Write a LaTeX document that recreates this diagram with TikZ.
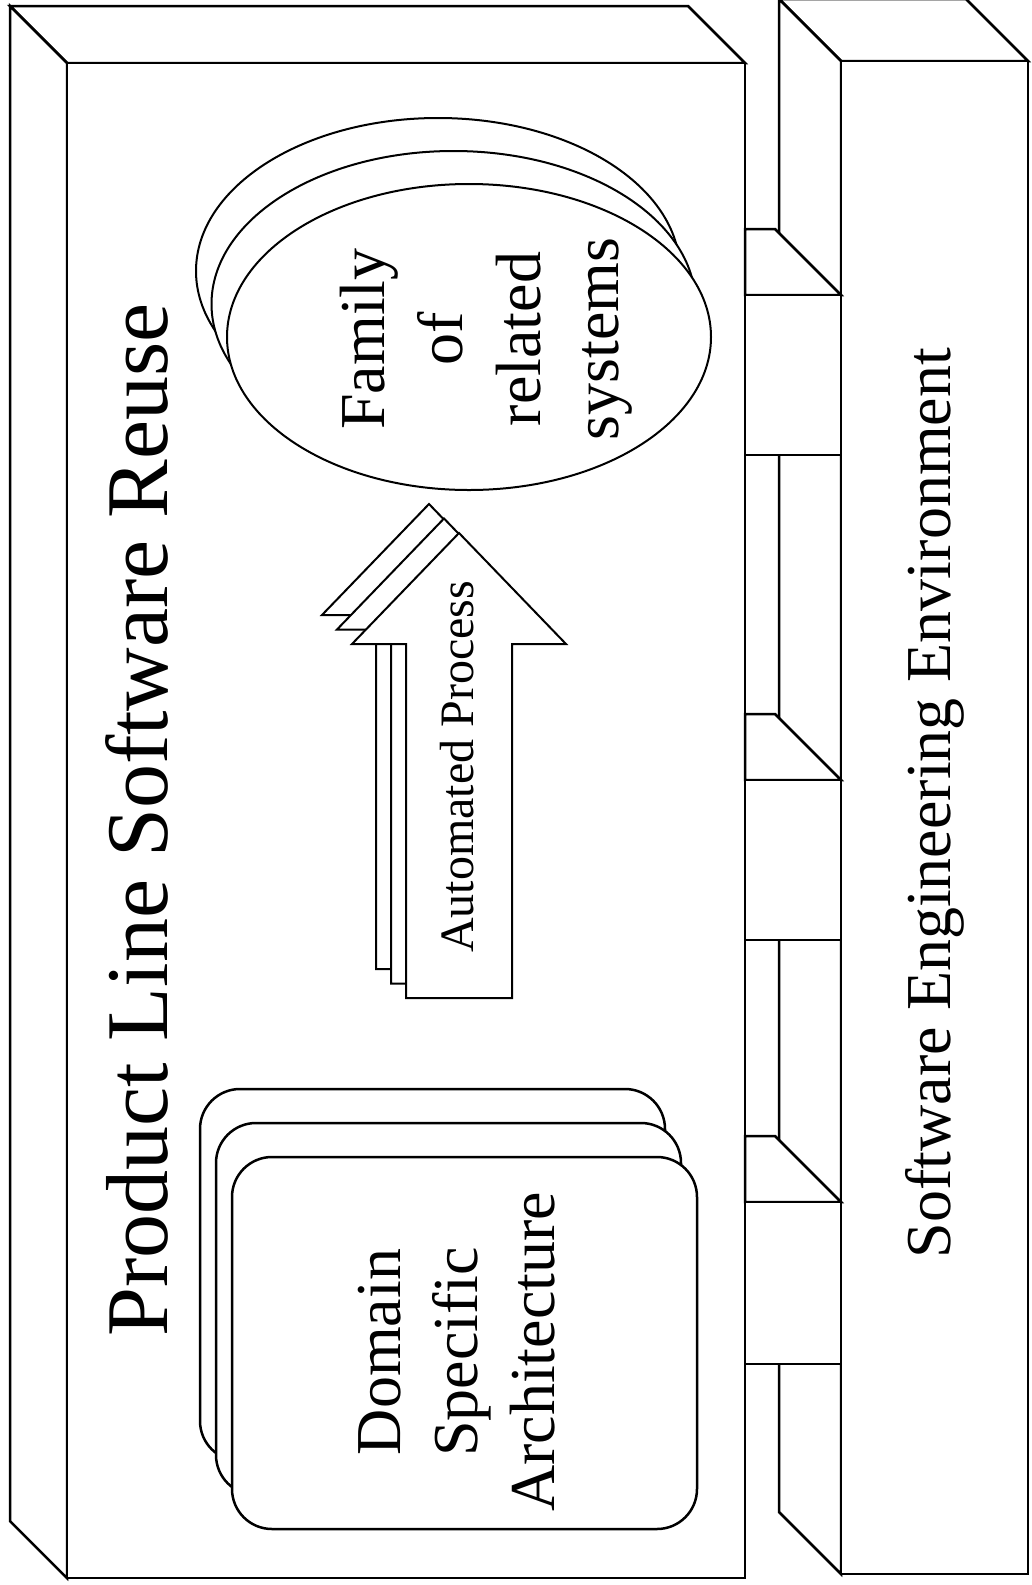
\documentclass[tikz,border=0pt]{standalone}
\usepackage{fontspec}
\setmainfont{Liberation Serif}
\begin{document}
\begin{tikzpicture}[x=1pt,y=-1pt,line width=2.5pt,
    face/.style={draw,fill=white},
    lbl/.style={rotate=90,inner sep=0pt,align=center}]
                \def\d{57}%độ sâu hộp lớn
                \def\e{62}%độ sâu hộp phải
                \def\h{66}%mặt trên khối nối
                \useasboundingbox (0,0) rectangle (1032,1585);
                % hộp lớn
                \draw[face] (67,63)--(67-\d,63-\d)--(745-\d,63-\d)--(745,63)--cycle;
                \draw[face] (67,63)--(67-\d,63-\d)--(67-\d,1578-\d)--(67,1578)--cycle;
                \draw[face] (67,63) rectangle (745,1578);
                % hộp phải
                \draw[face] (841,61)--(841-\e,61-\e)--(1028-\e,61-\e)--(1028,61)--cycle;
                \draw[face] (841,61)--(841-\e,61-\e)--(841-\e,1574-\e)--(841,1574)--cycle;
                \draw[face] (841,61) rectangle (1028,1574);
                % khối nối
                \foreach \t/\b in {229/455,714/940,1136/1364}{
                    \draw[face] (745,\t)--(841-\h,\t)--(841,\t+\h)--(745,\t+\h)--cycle;
                    \draw[face] (745,\t+\h) rectangle (841,\b);
                }
                % các lớp chồng
                \foreach \i in {2,1,0}{
                    \draw[face,line width=2pt] (469-15.5*\i,337-33*\i) ellipse [x radius=242,y radius=153];
                    \draw[face,line width=2pt,shift={(-15*\i,-14.5*\i)}]
                    (459,533)--(566,644)--(512,644)--(512,998)--(406,998)--(406,644)--(352,644)--cycle;
                    \draw[face,rounded corners=40pt,shift={(-16*\i,-34*\i)}] (232,1157) rectangle (697,1529);
                }
                \path
                (137,820) node[lbl,font=\fontsize{88}{100}\selectfont] (title) {Product Line Software Reuse}
                (935,803) node[lbl,font=\fontsize{64}{77}\selectfont] (see) {Software Engineering Environment}
                (457,767) node[lbl,font=\fontsize{48}{58}\selectfont] (auto) {Automated Process}
                (486,339) node[lbl,font=\fontsize{64}{78}\selectfont] (family) {Family\\of\\related\\systems}
                (457,1352) node[lbl,font=\fontsize{64}{77}\selectfont] (dsa) {Domain\\Specific\\Architecture}
                ;
            \end{tikzpicture}
\end{document}
